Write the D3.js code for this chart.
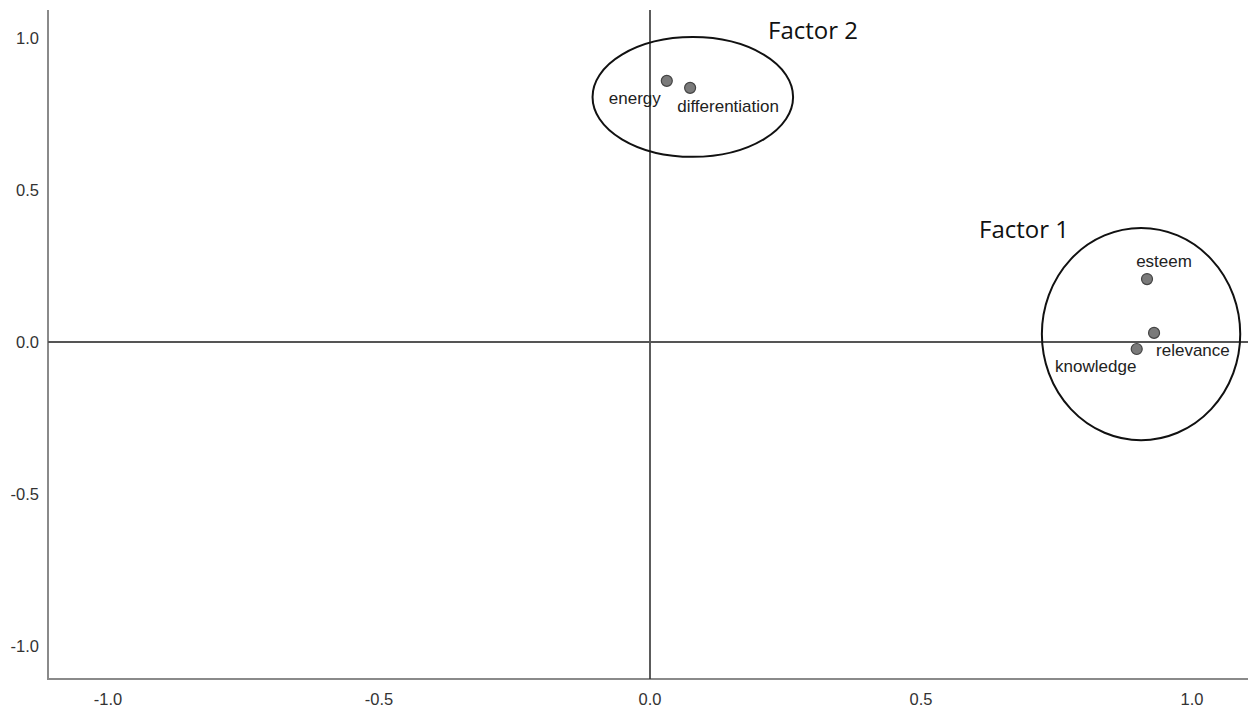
<!DOCTYPE html>
<html>
<head>
<meta charset="utf-8">
<script src="https://cdn.jsdelivr.net/npm/d3@7"></script>
<style>
  body { margin: 0; background: #fff; }
  .tick-label { font-family: "Liberation Sans", Arial, sans-serif; font-size: 16.5px; fill: #333; }
  .pt-label { font-family: "Liberation Sans", Arial, sans-serif; font-size: 17px; fill: #222; }
  .factor-label { font-family: "Open Sans", "Noto Sans", sans-serif; font-size: 24px; fill: #111; }
</style>
</head>
<body>
<div id="chart"></div>
<script>
// loadings (component 1, component 2)
let varNames = ["energy", "differentiation", "esteem", "relevance", "knowledge"];
let comp1 = [0.031, 0.074, 0.917, 0.930, 0.898];
let comp2 = [0.859, 0.836, 0.207, 0.030, -0.023];

let xTicks = [-1.0, -0.5, 0.0, 0.5, 1.0];
let yTicks = [-1.0, -0.5, 0.0, 0.5, 1.0];

// hand drawn factor groupings: name, centre x, centre y, radius x, radius y
let factorNames = ["Factor 2", "Factor 1"];
let factorCx = [0.079, 0.906];
let factorCy = [0.806, 0.026];
let factorRx = [0.185, 0.183];
let factorRy = [0.197, 0.349];

let width = 1248, height = 713;

let svg = d3.select("#chart").append("svg")
    .attr("width", width)
    .attr("height", height);

let x = d3.scaleLinear().domain([-1, 1]).range([108, 1192]);
let y = d3.scaleLinear().domain([-1, 1]).range([646, 38]);

let plotLeft = 48, plotTop = 10, plotBottom = 679, plotRight = width;

let fmt = d => d3.format(".1f")(d).replace("\u2212", "-");

// frame (left + bottom)
svg.append("path")
    .attr("d", "M" + plotLeft + "," + plotTop + "V" + plotBottom + "H" + plotRight)
    .attr("fill", "none")
    .attr("stroke", "#8a8a8a")
    .attr("stroke-width", 2);

// zero reference lines
svg.append("line")
    .attr("x1", x(0)).attr("x2", x(0))
    .attr("y1", plotTop).attr("y2", plotBottom)
    .attr("stroke", "#333").attr("stroke-width", 1.6);
svg.append("line")
    .attr("x1", plotLeft).attr("x2", plotRight)
    .attr("y1", y(0)).attr("y2", y(0))
    .attr("stroke", "#555").attr("stroke-width", 1.8);

// tick labels
svg.selectAll(".xt").data(xTicks).enter().append("text")
    .attr("class", "tick-label")
    .attr("x", d => x(d))
    .attr("y", 705)
    .attr("text-anchor", "middle")
    .text(fmt);

svg.selectAll(".yt").data(yTicks).enter().append("text")
    .attr("class", "tick-label")
    .attr("x", 39)
    .attr("y", d => y(d) + 6)
    .attr("text-anchor", "end")
    .text(fmt);

// points
let pts = varNames.map((n, i) => ({ name: n, a: comp1[i], b: comp2[i] }));

svg.selectAll(".dot").data(pts).enter().append("circle")
    .attr("cx", d => x(d.a))
    .attr("cy", d => y(d.b))
    .attr("r", 5.5)
    .attr("fill", "#7a7a7a")
    .attr("stroke", "#444")
    .attr("stroke-width", 1.2);

// label offsets relative to each dot
let labelDx = [-32, 38, 17, 2, -41];
let labelDy = [23, 24, -12, 23, 23];
let labelAnchor = ["middle", "middle", "middle", "start", "middle"];

svg.selectAll(".lbl").data(pts).enter().append("text")
    .attr("class", "pt-label")
    .attr("x", (d, i) => x(d.a) + labelDx[i])
    .attr("y", (d, i) => y(d.b) + labelDy[i])
    .attr("text-anchor", (d, i) => labelAnchor[i])
    .text(d => d.name);

// factor ellipses
let factors = factorNames.map((n, i) => ({ name: n, cx: factorCx[i], cy: factorCy[i], rx: factorRx[i], ry: factorRy[i] }));

svg.selectAll(".fe").data(factors).enter().append("ellipse")
    .attr("cx", d => x(d.cx))
    .attr("cy", d => y(d.cy))
    .attr("rx", d => x(d.rx) - x(0))
    .attr("ry", d => y(0) - y(d.ry))
    .attr("fill", "none")
    .attr("stroke", "#111")
    .attr("stroke-width", 2);

let factorLx = [768, 979];
let factorLy = [39, 238];

svg.selectAll(".fl").data(factors).enter().append("text")
    .attr("class", "factor-label")
    .attr("x", (d, i) => factorLx[i])
    .attr("y", (d, i) => factorLy[i])
    .text(d => d.name);
</script>
</body>
</html>
